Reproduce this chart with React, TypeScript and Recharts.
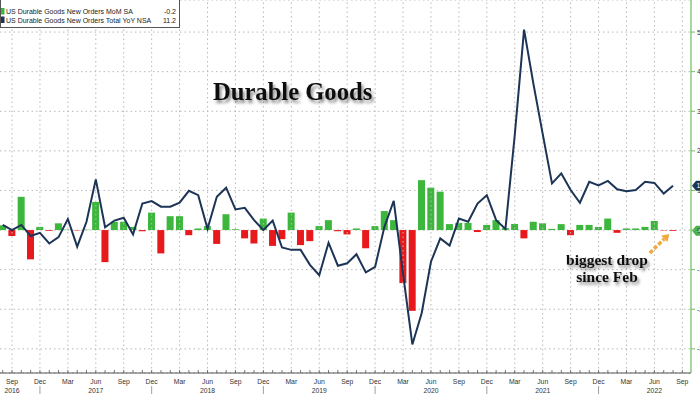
import {
  ComposedChart,
  Bar,
  Line,
  Cell,
  XAxis,
  YAxis,
  CartesianGrid,
  ReferenceLine,
} from "recharts";

// Monthly series, Aug 2016 .. Aug 2022 (73 points)
const START_YEAR = 2016;
const START_MONTH = 7; // Aug (0 = Jan)

const MONTH_NAMES = ["Jan", "Feb", "Mar", "Apr", "May", "Jun", "Jul", "Aug", "Sep", "Oct", "Nov", "Dec"];
const QUARTER_LABELS = ["Mar", "Jun", "Sep", "Dec"];

// US Durable Goods New Orders MoM SA
const momSA = [
  1.2, -1.5, 8.4, -7.4, 0.8, -0.2, 1.7, 0.1, -0.1, 0.1,
  7.1, -8.1, 2.1, 2.1, 0.8, -0.3, 4.4, -5.9, 3.5, 3.5,
  -1.3, 0.4, 1.0, -3.5, 4.0, 0.2, -2.1, -3.4, 2.9, -4.0,
  -2.3, 4.4, -3.8, -2.8, 1.0, 2.5, -0.3, -1.1, 0.4, -4.6,
  1.0, 4.8, 2.5, -13.4, -20.4, 12.6, 10.7, 9.7, 1.5, 1.8,
  1.8, -0.5, 1.3, 2.5, 0.5, 1.5, -2.1, 2.1, 1.7, 0.3,
  1.5, -1.3, 1.3, 1.3, 0.8, 2.9, -0.7, 0.4, 0.4, 0.8,
  2.3, -0.1, -0.2,
];

// US Durable Goods New Orders Total YoY NSA
const yoyNSA = [
  1.3, 0.0, 1.3, -1.5, -0.7, -3.4, -1.8, 2.8, -4.2, 2.1,
  12.8, 0.7, 2.4, 3.1, -1.1, 6.7, 7.3, 5.9, 5.9, 6.9,
  9.9, 8.8, 0.3, 8.4, 10.7, 5.2, 5.6, 2.5, 0.0, 2.4,
  -4.4, -5.0, -5.0, -8.8, -11.4, -3.2, -9.0, -8.4, -6.1, -10.7,
  -9.3, 0.8, 7.4, -11.0, -28.9, -21.0, -8.0, -2.1, -3.9, 2.9,
  2.1, 6.7, 8.8, 2.5, 0.3, 24.0, 50.6, 37.0, 24.3, 11.8,
  14.3, 10.1, 6.9, 12.2, 11.3, 12.4, 10.3, 9.8, 10.1, 12.2,
  11.9, 9.2, 11.2,
];

const Y_TICKS = [-30, -20, -10, 0, 10, 20, 30, 40, 50];
const Y_DOMAIN = [-36.1, 58.1];
const X_DOMAIN = [-0.29, 73.93];
const TICK_COUNT = 74; // through Sep 2022

const GREEN = "#3cb63c";
const RED = "#e8191c";
const NAVY = "#1c3456";
const AXIS_GREEN = "#6cbf5c";
const ORANGE = "#f2a93b";

const data = momSA.map((mom, i) => ({ i, mom, yoy: yoyNSA[i] }));

const monthOf = (i: number) => (START_MONTH + i) % 12;
const yearOf = (i: number) => START_YEAR + Math.floor((START_MONTH + i) / 12);

const xTicks = Array.from({ length: TICK_COUNT }, (_, i) => i);
const quarterTicks = xTicks.filter((i) => QUARTER_LABELS.includes(MONTH_NAMES[monthOf(i)]));

function yearLabelAt(i: number): string | null {
  const name = MONTH_NAMES[monthOf(i)];
  const yr = yearOf(i);
  if (name === "Jun") return String(yr);
  // first year starts after June: label under first quarter label
  if (yr === START_YEAR && i === quarterTicks[0]) return String(yr);
  return null;
}

const LABEL_FONT = "'Liberation Sans', Arial, sans-serif";

function MonthTick(props: any) {
  const { x, y, payload } = props;
  const i = payload.value as number;
  const name = MONTH_NAMES[monthOf(i)];
  const yearLabel = yearLabelAt(i);
  return (
    <g>
      <line x1={x} x2={x} y1={y - 3} y2={y} stroke="#555" strokeWidth={0.8} />
      {QUARTER_LABELS.includes(name) && (
        <text x={x} y={y + 10.5} textAnchor="middle" fontSize={6.8} fill="#333" fontFamily={LABEL_FONT}>
          {name}
        </text>
      )}
      {yearLabel && (
        <text x={x} y={y + 19.5} textAnchor="middle" fontSize={6.8} fill="#333" fontFamily={LABEL_FONT}>
          {yearLabel}
        </text>
      )}
      {name === "Dec" && <line x1={x} x2={x} y1={y + 13} y2={y + 21} stroke="#888" strokeWidth={0.8} />}
    </g>
  );
}

// last-value badge drawn at the right end of an invisible reference line
function badgeLabel(fill: string, text: string) {
  return (props: any) => {
    const vb = props.viewBox;
    if (!vb) return null;
    const x = vb.x + vb.width + 1;
    const cy = vb.y;
    return (
      <g>
        <path
          d={`M${x} ${cy} L${x + 4} ${cy - 5} L${x + 30} ${cy - 5} L${x + 30} ${cy + 5} L${x + 4} ${cy + 5} Z`}
          fill={fill}
        />
        <text x={x + 4.5} y={cy + 2.5} fontSize={7} fill="#fff" fontFamily={LABEL_FONT}>
          {text}
        </text>
      </g>
    );
  };
}

function Arrow(props: any) {
  const { x1, y1, x2, y2 } = props;
  if ([x1, y1, x2, y2].some((v) => v == null)) return null;
  const ang = Math.atan2(y2 - y1, x2 - x1);
  const hx = x2 - 7 * Math.cos(ang);
  const hy = y2 - 7 * Math.sin(ang);
  const px = -Math.sin(ang) * 4.5;
  const py = Math.cos(ang) * 4.5;
  return (
    <g>
      <line x1={x1} y1={y1} x2={hx} y2={hy} stroke={ORANGE} strokeWidth={3.5} strokeDasharray="4 2" />
      <path d={`M${x2} ${y2} L${hx + px} ${hy + py} L${hx - px} ${hy - py} Z`} fill={ORANGE} />
    </g>
  );
}

function Overlay() {
  const serif = "'Liberation Serif', 'Times New Roman', serif";
  return (
    <svg
      width={700}
      height={394}
      style={{ position: "absolute", left: 0, top: 0, pointerEvents: "none" }}
    >
      <defs>
        <filter id="shadow" x="-10%" y="-30%" width="130%" height="180%">
          <feDropShadow dx="2" dy="3" stdDeviation="1.6" floodColor="#000" floodOpacity="0.45" />
        </filter>
      </defs>
      {/* legend */}
      <rect x={0.5} y={-1} width={179} height={28.5} fill="#fff" stroke="#555" strokeWidth={1} />
      <rect x={1} y={8} width={3.5} height={6.5} fill={GREEN} />
      <rect x={1} y={16.5} width={3.5} height={6.5} fill={NAVY} />
      <g fontFamily={LABEL_FONT} fontSize={7} fill="#222">
        <text x={6} y={13.8}>US Durable Goods New Orders MoM SA</text>
        <text x={176} y={13.8} textAnchor="end">-0.2</text>
        <text x={6} y={22.6}>US Durable Goods New Orders Total YoY NSA</text>
        <text x={176} y={22.6} textAnchor="end">11.2</text>
      </g>
      {/* title */}
      <text x={213} y={100} fontFamily={serif} fontWeight="bold" fontSize={24.6} fill="#111" filter="url(#shadow)">
        Durable Goods
      </text>
      {/* annotation */}
      <g fontFamily={serif} fontWeight="bold" fontSize={15.5} fill="#111" textAnchor="middle" filter="url(#shadow)">
        <text x={607} y={265}>biggest drop</text>
        <text x={607} y={281.5}>since Feb</text>
      </g>
    </svg>
  );
}

const lastMom = momSA[momSA.length - 1];
const lastYoy = yoyNSA[yoyNSA.length - 1];

export default function App() {
  return (
    <div style={{ position: "absolute", left: 0, top: 0, width: 700, height: 394, overflow: "hidden", background: "#fff" }}>
      <ComposedChart width={700} height={394} data={data} margin={{ top: 0, right: 0, left: 0, bottom: 0 }}>
        <CartesianGrid vertical={false} stroke="#b8b8b8" strokeDasharray="1.5 3" />
        {quarterTicks.map((i) => (
          <ReferenceLine key={i} x={i} stroke="#b8b8b8" strokeDasharray="1.5 3" />
        ))}
        <XAxis
          dataKey="i"
          type="number"
          domain={X_DOMAIN}
          allowDataOverflow
          ticks={xTicks}
          interval={0}
          tick={<MonthTick />}
          tickLine={false}
          tickSize={0}
          tickMargin={0}
          height={21}
          axisLine={{ stroke: "#555" }}
        />
        <YAxis
          orientation="right"
          type="number"
          domain={Y_DOMAIN}
          allowDataOverflow
          ticks={Y_TICKS}
          interval={0}
          width={9}
          tickSize={4}
          tickMargin={2}
          tick={{ fill: "#333", fontSize: 7, fontFamily: LABEL_FONT }}
          tickLine={{ stroke: AXIS_GREEN }}
          axisLine={{ stroke: AXIS_GREEN, strokeWidth: 1.2 }}
        />
        <Bar dataKey="mom" barSize={7} isAnimationActive={false}>
          {data.map((d) => (
            <Cell key={d.i} fill={d.mom >= 0 ? GREEN : RED} />
          ))}
        </Bar>
        <Line
          dataKey="yoy"
          type="linear"
          stroke={NAVY}
          strokeWidth={2}
          dot={false}
          activeDot={false}
          isAnimationActive={false}
        />
        <ReferenceLine
          segment={[
            { x: 69.5, y: -5.8 },
            { x: 71.6, y: -1.0 },
          ]}
          ifOverflow="visible"
          shape={<Arrow />}
        />
        <ReferenceLine y={lastMom} stroke="none" ifOverflow="visible" label={badgeLabel("#4cb34c", String(lastMom))} />
        <ReferenceLine y={lastYoy} stroke="none" ifOverflow="visible" label={badgeLabel(NAVY, String(lastYoy))} />
      </ComposedChart>
      <Overlay />
    </div>
  );
}
